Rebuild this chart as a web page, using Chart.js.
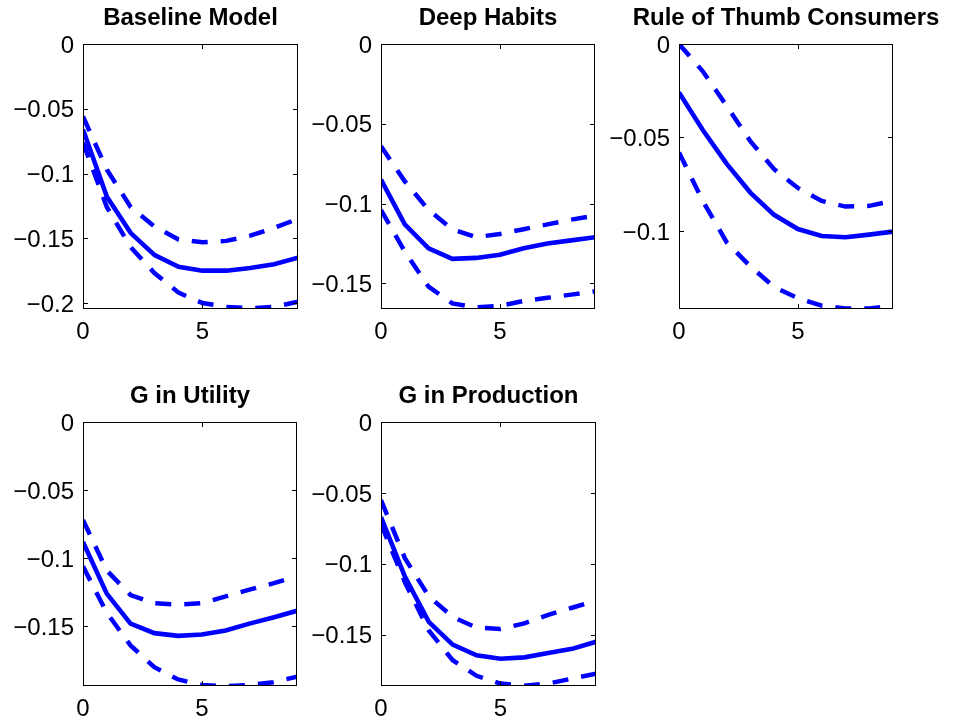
<!DOCTYPE html>
<html>
<head>
<meta charset="utf-8">
<script src="https://cdn.jsdelivr.net/npm/chart.js@4"></script>
<style>
body { margin: 0; background: #fff; width: 959px; height: 723px; position: relative; overflow: hidden; }
canvas { position: absolute; }
</style>
</head>
<body>
<script>
// horizon (quarters)
const horizon = [0, 1, 2, 3, 4, 5, 6, 7, 8, 9];
const xTicks = [0, 5];

// Baseline Model
const baseMid = [-0.066, -0.118, -0.146, -0.163, -0.172, -0.175, -0.175, -0.173, -0.170, -0.165];
const baseUp  = [-0.056, -0.097, -0.126, -0.141, -0.151, -0.153, -0.152, -0.148, -0.142, -0.135];
const baseLow = [-0.076, -0.126, -0.157, -0.177, -0.192, -0.200, -0.203, -0.204, -0.203, -0.199];

// Deep Habits
const habitMid = [-0.085, -0.113, -0.128, -0.1346, -0.134, -0.132, -0.128, -0.125, -0.123, -0.121];
const habitUp  = [-0.064, -0.086, -0.104, -0.116, -0.121, -0.119, -0.116, -0.113, -0.110, -0.1075];
const habitLow = [-0.104, -0.130, -0.152, -0.1625, -0.165, -0.164, -0.161, -0.159, -0.157, -0.155];

// Rule of Thumb Consumers
const rotMid = [-0.026, -0.046, -0.064, -0.0795, -0.0914, -0.099, -0.1027, -0.1034, -0.102, -0.1004];
const rotUp  = [0, -0.0146, -0.033, -0.052, -0.067, -0.077, -0.084, -0.087, -0.0866, -0.084];
const rotLow = [-0.058, -0.084, -0.106, -0.119, -0.130, -0.136, -0.140, -0.1415, -0.1415, -0.140];

// G in Utility
const utilMid = [-0.088, -0.126, -0.148, -0.155, -0.157, -0.156, -0.153, -0.148, -0.1435, -0.1386];
const utilUp  = [-0.072, -0.109, -0.127, -0.133, -0.134, -0.133, -0.128, -0.123, -0.1185, -0.113];
const utilLow = [-0.106, -0.140, -0.164, -0.180, -0.189, -0.193, -0.194, -0.193, -0.191, -0.187];

// G in Production
const prodMid = [-0.067, -0.109, -0.141, -0.157, -0.1645, -0.167, -0.166, -0.163, -0.160, -0.155];
const prodUp  = [-0.055, -0.096, -0.123, -0.1375, -0.145, -0.146, -0.142, -0.136, -0.131, -0.126];
const prodLow = [-0.072, -0.113, -0.147, -0.168, -0.179, -0.1845, -0.186, -0.1845, -0.181, -0.1775];

const panels = [
    {title: 'Baseline Model', mid: baseMid, up: baseUp, low: baseLow, ymin: -0.2046, yticks: [0, -0.05, -0.1, -0.15, -0.2], box: [83, 44, 298, 309]},
    {title: 'Deep Habits', mid: habitMid, up: habitUp, low: habitLow, ymin: -0.166, yticks: [0, -0.05, -0.1, -0.15], box: [381, 44, 595, 309]},
    {title: 'Rule of Thumb Consumers', mid: rotMid, up: rotUp, low: rotLow, ymin: -0.1418, yticks: [0, -0.05, -0.1], box: [679, 44, 893, 309]},
    {title: 'G in Utility', mid: utilMid, up: utilUp, low: utilLow, ymin: -0.1938, yticks: [0, -0.05, -0.1, -0.15], box: [83, 422, 297, 686]},
    {title: 'G in Production', mid: prodMid, up: prodUp, low: prodLow, ymin: -0.1862, yticks: [0, -0.05, -0.1, -0.15], box: [381, 422, 596, 686]}
];

const BLUE = 'rgb(0,0,255)';
const PADL = 83, PADT = 44, PADR = 70, PADB = 40;

function fmt(v) {
    if (v === 0) return '0';
    let s = String(Math.abs(Number(v.toFixed(4))));
    return (v < 0 ? '\u2212' : '') + s;
}

// box round the plot with inward ticks, like matlab
const boxPlugin = {
    id: 'boxPlugin',
    afterDatasetsDraw(chart) {
        const a = chart.chartArea, ctx = chart.ctx;
        const xs = chart.scales.x, ys = chart.scales.y;
        ctx.save();
        ctx.strokeStyle = '#000';
        ctx.lineWidth = 1;
        ctx.strokeRect(a.left + 0.5, a.top + 0.5, a.right - a.left - 1, a.bottom - a.top - 1);
        ctx.beginPath();
        xs.ticks.forEach(t => {
            let px = Math.round(xs.getPixelForValue(t.value)) + 0.5;
            ctx.moveTo(px, a.bottom); ctx.lineTo(px, a.bottom - 5);
            ctx.moveTo(px, a.top); ctx.lineTo(px, a.top + 5);
        });
        ys.ticks.forEach(t => {
            let py = Math.round(ys.getPixelForValue(t.value)) + 0.5;
            ctx.moveTo(a.left, py); ctx.lineTo(a.left + 5, py);
            ctx.moveTo(a.right, py); ctx.lineTo(a.right - 5, py);
        });
        ctx.stroke();
        // title
        ctx.fillStyle = '#000';
        ctx.font = "bold 24px 'Liberation Sans', Arial, sans-serif";
        ctx.textAlign = 'center';
        ctx.textBaseline = 'alphabetic';
        ctx.fillText(chart.options.plugins.panelTitle.text, (a.left + a.right) / 2, a.top - 19);
        ctx.restore();
    }
};

panels.forEach(p => {
    const [L, T, R, B] = p.box;
    const cv = document.createElement('canvas');
    const w = (R - L) + PADL + PADR, h = (B - T) + PADT + PADB;
    cv.width = w; cv.height = h;
    cv.style.left = (L - PADL) + 'px';
    cv.style.top = (T - PADT) + 'px';
    cv.style.width = w + 'px';
    cv.style.height = h + 'px';
    document.body.appendChild(cv);

    const mk = (vals, dash, bw) => ({
        data: horizon.map((x, i) => ({x: x, y: vals[i]})),
        borderColor: BLUE,
        borderWidth: bw,
        borderDash: dash,
        borderCapStyle: 'butt',
        pointRadius: 0,
        fill: false,
        tension: 0,
        clip: 0
    });

    new Chart(cv, {
        type: 'line',
        data: {
            datasets: [mk(p.up, [16, 13], 4.5), mk(p.low, [16, 13], 4.5), mk(p.mid, [], 4.6)]
        },
        options: {
            responsive: false,
            animation: false,
            devicePixelRatio: 1,
            layout: {padding: {left: 0, top: PADT, right: PADR, bottom: 0}},
            plugins: {
                legend: {display: false},
                tooltip: {enabled: false},
                panelTitle: {text: p.title}
            },
            scales: {
                x: {
                    type: 'linear', min: 0, max: 9,
                    grid: {display: false, drawTicks: false},
                    border: {display: false},
                    afterBuildTicks: s => { s.ticks = xTicks.map(v => ({value: v})); },
                    afterFit: s => { s.height = PADB; },
                    ticks: {
                        padding: 9, color: '#000', maxRotation: 0,
                        font: {family: "'Liberation Sans', Arial, sans-serif", size: 24},
                        callback: v => fmt(v)
                    }
                },
                y: {
                    type: 'linear', min: p.ymin, max: 0,
                    grid: {display: false, drawTicks: false},
                    border: {display: false},
                    afterBuildTicks: s => { s.ticks = p.yticks.map(v => ({value: v})); },
                    afterFit: s => { s.width = PADL; },
                    ticks: {
                        padding: 9, color: '#000', labelOffset: 2,
                        font: {family: "'Liberation Sans', Arial, sans-serif", size: 24},
                        callback: v => fmt(v)
                    }
                }
            }
        },
        plugins: [boxPlugin]
    });
});
</script>
</body>
</html>
